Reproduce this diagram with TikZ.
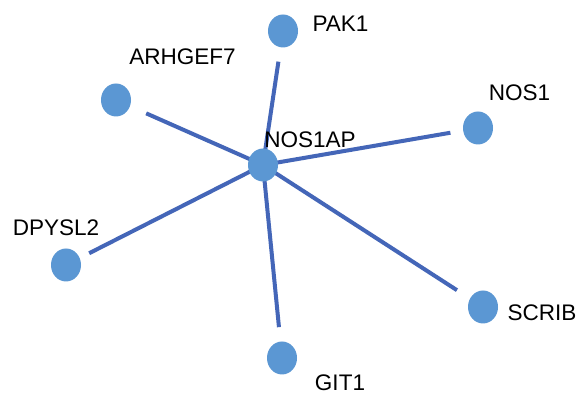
\documentclass[tikz,border=0pt]{standalone}
\usepackage{fontspec}
\setmainfont{Liberation Sans}
\usetikzlibrary{shapes.geometric,backgrounds}
\definecolor{nodeblue}{RGB}{91,151,211}
\definecolor{edgeblue}{RGB}{68,102,184}
\tikzset{
  protein/.style={ellipse, fill=nodeblue, draw=none, inner sep=0pt,
    minimum width=22.5pt, minimum height=24.75pt},
  gene/.style={font=\fontsize{16.9}{20}\selectfont, inner sep=0pt, anchor=center},
  edge/.style={draw=edgeblue, line width=3pt}
}
\begin{document}
\begin{tikzpicture}[x=0.75pt,y=-0.75pt]
\useasboundingbox (0,0) rectangle (582,398);
% protein nodes
\node[protein] (nos1ap) at (263,165) {};
\node[protein] (pak1) at (283,31) {};
\node[protein] (arhgef7) at (116,100) {};
\node[protein] (nos1) at (478,128) {};
\node[protein] (dpysl2) at (66,265) {};
\node[protein] (scrib) at (483,307) {};
\node[protein] (git1) at (282,358) {};
% interactions, drawn behind the nodes and stopping short of the partner
\begin{pgfonlayer}{background}
  \fill[white] (0,0) rectangle (582,398);
  \draw[edge, shorten >=23.25pt] (nos1ap.center) -- (pak1.center);
  \draw[edge, shorten >=24.75pt] (nos1ap.center) -- (arhgef7.center);
  \draw[edge, shorten >=21pt]    (nos1ap.center) -- (nos1.center);
  \draw[edge, shorten >=19.5pt]  (nos1ap.center) -- (dpysl2.center);
  \draw[edge, shorten >=23.25pt] (nos1ap.center) -- (scrib.center);
  \draw[edge, shorten >=23.25pt] (nos1ap.center) -- (git1.center);
\end{pgfonlayer}
% labels
\node[gene] (lnos1ap) at (310,140) {NOS1AP};
\node[gene] (lpak1) at (340.5,24) {PAK1};
\node[gene] (larhgef7) at (182.5,57) {ARHGEF7};
\node[gene] (lnos1) at (519.5,93) {NOS1};
\node[gene] (ldpysl2) at (56,228) {DPYSL2};
\node[gene] (lscrib) at (542,313) {SCRIB};
\node[gene] (lgit1) at (340,383) {GIT1};
\end{tikzpicture}
\end{document}
